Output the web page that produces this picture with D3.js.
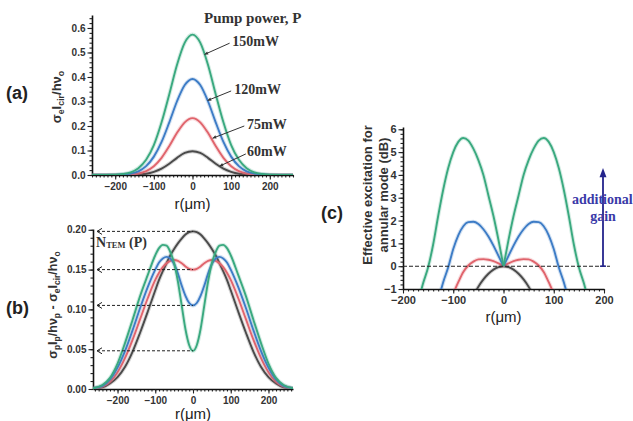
<!DOCTYPE html>
<html>
<head>
<meta charset="utf-8">
<script src="https://cdn.jsdelivr.net/npm/d3@7"></script>
<style>
  body { margin: 0; background: #fff; }
  svg { display: block; }
  text { font-family: "Liberation Sans", Arial, sans-serif; }
  .serif { font-family: "Liberation Serif", "Times New Roman", serif; }
</style>
</head>
<body>
<svg id="fig" width="633" height="421"></svg>
<script>
// pump powers, colours (60, 75, 120, 150 mW)
const powers = ['60mW', '75mW', '120mW', '150mW'];
const colors = ['#4a4a4a', '#e0646c', '#3d7cc6', '#3aa97f'];

// (a) sigma_e I_cir / h nu_o  -- right half, mirrored about r = 0
const rA = [0, 20, 40, 60, 80, 100, 120, 140, 160, 180, 200, 260];
const a60  = [0.097, 0.090, 0.070, 0.046, 0.026, 0.013, 0.005, 0.002, 0.0005, 0, 0, 0];
const a75  = [0.232, 0.215, 0.172, 0.118, 0.070, 0.036, 0.016, 0.006, 0.002, 0.0005, 0, 0];
const a120 = [0.392, 0.367, 0.301, 0.215, 0.135, 0.075, 0.036, 0.015, 0.006, 0.002, 0.0005, 0];
const a150 = [0.573, 0.540, 0.450, 0.330, 0.215, 0.122, 0.062, 0.028, 0.011, 0.004, 0.001, 0];

// (b) sigma_p I_p / h nu_p - sigma_e I_cir / h nu_o
const rB = [0, 10, 20, 30, 40, 50, 60, 70, 80, 90, 100, 120, 140, 160, 180, 200, 220, 240, 265];
const b60  = [0.198, 0.197, 0.194, 0.189, 0.183, 0.176, 0.168, 0.158, 0.148, 0.137, 0.124, 0.097, 0.071, 0.047, 0.028, 0.015, 0.007, 0.002, 0.0005];
const b75  = [0.150, 0.151, 0.154, 0.158, 0.161, 0.162, 0.161, 0.158, 0.153, 0.146, 0.137, 0.114, 0.088, 0.062, 0.039, 0.021, 0.009, 0.003, 0.0005];
const b120 = [0.105, 0.108, 0.117, 0.130, 0.145, 0.157, 0.164, 0.166, 0.164, 0.159, 0.150, 0.128, 0.102, 0.074, 0.048, 0.027, 0.012, 0.004, 0.001];
const b150 = [0.048, 0.055, 0.075, 0.105, 0.135, 0.158, 0.172, 0.180, 0.181, 0.177, 0.168, 0.143, 0.117, 0.087, 0.058, 0.032, 0.014, 0.005, 0.001];
const nTem = [0.198, 0.150, 0.105, 0.048];

// (c) effective excitation for annular mode (dB)
const rC60 = [0, 10, 20, 30, 40, 50, 60];
const c60  = [0, -0.04, -0.15, -0.33, -0.58, -0.9, -1.3];
const rC75 = [0, 10, 20, 30, 40, 50, 60, 70, 80, 90, 100];
const c75  = [0, 0.12, 0.22, 0.28, 0.31, 0.30, 0.20, 0.03, -0.25, -0.70, -1.2];
const rC120 = [0, 10, 20, 30, 40, 50, 60, 70, 80, 90, 100, 110, 120, 130];
const c120  = [0, 0.45, 0.90, 1.30, 1.62, 1.85, 1.95, 1.93, 1.75, 1.35, 0.75, -0.05, -0.70, -1.5];
const rC150 = [0, 10, 20, 30, 40, 50, 60, 70, 80, 90, 100, 110, 120, 130, 140, 150, 160, 170];
const c150  = [0, 1.15, 2.2, 3.1, 4.0, 4.65, 5.15, 5.5, 5.62, 5.45, 5.0, 4.3, 3.35, 2.2, 0.95, -0.05, -0.75, -1.6];

const svg = d3.select('#fig');
let clipId = 0;

function leftHalf(r, v) { return r.map((d, i) => [-d, v[i]]).reverse(); }
function rightHalf(r, v) { return r.map((d, i) => [d, v[i]]); }
function mirror(r, v) { return leftHalf(r, v).concat(rightHalf(r, v).slice(1)); }

function panel(o) {
  const x = d3.scaleLinear().domain(o.xDom).range(o.xRange);
  const y = d3.scaleLinear().domain(o.yDom).range(o.yRange);
  const g = svg.append('g');

  // minor ticks
  const xAxisY = o.yRange[0];
  g.append('g').attr('transform', `translate(0,${xAxisY})`)
    .call(d3.axisBottom(x).tickValues(o.xMinor).tickSize(2.5).tickFormat(''))
    .call(s => s.select('.domain').remove());
  g.append('g').attr('transform', `translate(${o.xRange[0]},0)`)
    .call(d3.axisLeft(y).tickValues(o.yMinor).tickSize(2.5).tickFormat(''))
    .call(s => s.select('.domain').remove());

  // major ticks
  const xa = g.append('g').attr('transform', `translate(0,${xAxisY})`)
    .call(d3.axisBottom(x).tickValues(o.xMajor).tickSize(4.5).tickSizeOuter(0).tickPadding(3));
  const ya = g.append('g').attr('transform', `translate(${o.xRange[0]},0)`)
    .call(d3.axisLeft(y).tickValues(o.yMajor).tickSize(4.5).tickSizeOuter(0).tickPadding(2).tickFormat(o.yFmt));

  g.selectAll('.domain').attr('stroke', '#111').attr('stroke-width', 1.6);
  g.selectAll('.tick line').attr('stroke', '#222').attr('stroke-width', 1.1);
  [xa, ya].forEach(a => a.selectAll('text')
    .attr('font-size', o.tickSize || 10).attr('font-weight', 'bold').attr('fill', '#333')
    .style('font-family', '"Liberation Sans", Arial, sans-serif'));

  const id = 'clip' + (clipId++);
  svg.append('clipPath').attr('id', id).append('rect')
    .attr('x', o.xRange[0]).attr('y', o.yRange[1] - 2)
    .attr('width', o.xRange[1] - o.xRange[0]).attr('height', o.yRange[0] - o.yRange[1] + 2);
  const plot = svg.append('g').attr('clip-path', `url(#${id})`);
  return { x, y, plot, g };
}

function curves(p, series, curveType) {
  const line = d3.line().x(d => p.x(d[0])).y(d => p.y(d[1])).curve(curveType);
  series.forEach((parts, i) => {
    parts.forEach(pts => {
      p.plot.append('path').attr('d', line(pts)).attr('fill', 'none')
        .attr('stroke', colors[i]).attr('stroke-width', 4).attr('stroke-opacity', 0.22);
      p.plot.append('path').attr('d', line(pts)).attr('fill', 'none')
        .attr('stroke', colors[i]).attr('stroke-width', 1.9);
    });
  });
}

function rotLabel(cx, cy, parts, size) {
  const t = svg.append('text').attr('transform', `translate(${cx},${cy}) rotate(-90)`)
    .attr('text-anchor', 'middle').attr('font-weight', 'bold').attr('font-size', size).attr('fill', '#333');
  let low = false;
  parts.forEach(([s, sub]) => {
    const sp = t.append('tspan').text(s);
    if (sub) { sp.attr('font-size', size * 0.68); if (!low) sp.attr('dy', 3); low = true; }
    else if (low) { sp.attr('dy', -3); low = false; }
  });
  return t;
}

function xLabel(p, yPos) {
  svg.append('text').attr('x', p.x(0)).attr('y', yPos).attr('text-anchor', 'middle')
    .attr('font-size', 15).attr('fill', '#222').text('r(\u03bcm)');
}

function tag(x, y, s) {
  svg.append('text').attr('x', x).attr('y', y).attr('font-size', 18)
    .attr('font-weight', 'bold').attr('fill', '#222').text(s);
}

// ---------------- (a) ----------------
const pa = panel({
  xDom: [-260, 260], xRange: [92, 293], yDom: [0, 0.653], yRange: [175, 15],
  xMajor: [-200, -100, 0, 100, 200], xMinor: d3.range(-260, 261, 10),
  yMajor: [0, 0.1, 0.2, 0.3, 0.4, 0.5, 0.6], yMinor: d3.range(0, 0.65, 0.02),
  yFmt: d3.format('.1f')
});
curves(pa, [a60, a75, a120, a150].map(v => [mirror(rA, v)]), d3.curveMonotoneX);
xLabel(pa, 209);
rotLabel(61, 97, [['\u03c3'], ['e', 1], ['I'], ['cir', 1], ['/h\u03bd'], ['o', 1]], 13);
tag(6, 99, '(a)');

svg.append('text').attr('class', 'serif').attr('x', 204).attr('y', 23)
  .attr('font-size', 15).attr('font-weight', 'bold').attr('fill', '#333').text('Pump power, P');

// label positions in data coordinates: text anchor and leader end on the curve
const aLabelAt = [[141, 0.078], [141, 0.188], [108, 0.330], [103, 0.526]];
const aLeadFrom = [[138, 0.086], [134, 0.200], [100, 0.343], [96, 0.538]];
const aLeadTo = [[70, 0.036], [52, 0.150], [39, 0.304], [31, 0.492]];
powers.forEach((s, i) => {
  svg.append('text').attr('class', 'serif').attr('x', pa.x(aLabelAt[i][0])).attr('y', pa.y(aLabelAt[i][1]))
    .attr('font-size', 14).attr('font-weight', 'bold').attr('fill', '#333').text(s);
  const x1 = pa.x(aLeadFrom[i][0]), y1 = pa.y(aLeadFrom[i][1]);
  const x2 = pa.x(aLeadTo[i][0]), y2 = pa.y(aLeadTo[i][1]);
  svg.append('line').attr('x1', x1).attr('y1', y1).attr('x2', x2).attr('y2', y2)
    .attr('stroke', '#333').attr('stroke-width', 1);
  const ang = Math.atan2(y2 - y1, x2 - x1);
  const hx = (a, l) => x2 - l * Math.cos(ang + a), hy = (a, l) => y2 - l * Math.sin(ang + a);
  svg.append('path').attr('d', `M${x2},${y2}L${hx(0.45, 4)},${hy(0.45, 4)}L${hx(-0.45, 4)},${hy(-0.45, 4)}Z`)
    .attr('fill', '#333');
});

// ---------------- (b) ----------------
const pb = panel({
  xDom: [-265, 265], xRange: [93, 293], yDom: [0, 0.201], yRange: [389, 229],
  xMajor: [-200, -100, 0, 100, 200], xMinor: d3.range(-260, 261, 10),
  yMajor: [0, 0.05, 0.1, 0.15, 0.2], yMinor: d3.range(0, 0.2001, 0.01),
  yFmt: d3.format('.2f')
});
curves(pb, [b60, b75, b120, b150].map(v => [mirror(rB, v)]), d3.curveMonotoneX);
xLabel(pb, 419);
rotLabel(57, 305, [['\u03c3'], ['p', 1], ['I'], ['p', 1], ['/h\u03bd'], ['p', 1], [' - \u03c3'], ['e', 1], ['I'], ['cir', 1], ['/h\u03bd'], ['o', 1]], 12.5);
tag(6, 314, '(b)');

nTem.forEach(v => {
  const yy = pb.y(v), x0 = pb.x(-265) + 4, x1 = pb.x(0);
  svg.append('line').attr('x1', x0).attr('x2', x1).attr('y1', yy).attr('y2', yy)
    .attr('stroke', '#222').attr('stroke-width', 1).attr('stroke-dasharray', '3,2');
  svg.append('path').attr('d', `M${x0 + 5},${yy - 3}L${x0},${yy}L${x0 + 5},${yy + 3}`)
    .attr('fill', 'none').attr('stroke', '#222').attr('stroke-width', 1);
});
const nt = svg.append('text').attr('class', 'serif').attr('x', 96).attr('y', 247)
  .attr('font-weight', 'bold').attr('fill', '#333').attr('font-size', 14);
nt.append('tspan').text('N');
nt.append('tspan').attr('font-size', 8.5).attr('dy', 1).text('TEM');
nt.append('tspan').attr('dy', -1).text(' (P)');

// ---------------- (c) ----------------
const pc = panel({
  xDom: [-200, 200], xRange: [403, 604], yDom: [-1, 6.1], yRange: [289, 127],
  xMajor: [-200, -100, 0, 100, 200], xMinor: d3.range(-200, 201, 10),
  yMajor: [-1, 0, 1, 2, 3, 4, 5, 6], yMinor: d3.range(-1, 6.01, 0.2),
  yFmt: d3.format('d'), tickSize: 11
});
svg.append('line').attr('x1', pc.x(-200)).attr('x2', pc.x(200) + 6).attr('y1', pc.y(0)).attr('y2', pc.y(0))
  .attr('stroke', '#222').attr('stroke-width', 1.1).attr('stroke-dasharray', '4,2');
curves(pc, [[rC60, c60], [rC75, c75], [rC120, c120], [rC150, c150]]
  .map(([r, v]) => [leftHalf(r, v), rightHalf(r, v)]), d3.curveMonotoneX);
xLabel(pc, 322);
const cl = svg.append('text').attr('transform', 'translate(380,195) rotate(-90)')
  .attr('text-anchor', 'middle').attr('font-weight', 'bold').attr('font-size', 13).attr('fill', '#333');
cl.append('tspan').attr('x', 0).attr('dy', -8).text('Effective excitation for');
cl.append('tspan').attr('x', 0).attr('dy', 16).text('annular mode (dB)');
tag(321, 219, '(c)');

// additional gain arrow
const ax = pc.x(200) - 1;
svg.append('line').attr('x1', ax).attr('x2', ax).attr('y1', pc.y(0)).attr('y2', pc.y(4.1))
  .attr('stroke', '#24248c').attr('stroke-width', 1.8);
svg.append('line').attr('x1', ax - 3).attr('x2', ax + 3).attr('y1', pc.y(0)).attr('y2', pc.y(0))
  .attr('stroke', '#24248c').attr('stroke-width', 1.5);
svg.append('path').attr('d', `M${ax},${pc.y(4.3)}L${ax - 3.5},${pc.y(3.9)}L${ax + 3.5},${pc.y(3.9)}Z`)
  .attr('fill', '#24248c');
svg.append('text').attr('class', 'serif').attr('x', 572).attr('y', 204)
  .attr('font-size', 14).attr('font-weight', 'bold').attr('fill', '#3a3aa8').text('additional');
svg.append('text').attr('class', 'serif').attr('x', 603).attr('y', 221).attr('text-anchor', 'middle')
  .attr('font-size', 14).attr('font-weight', 'bold').attr('fill', '#3a3aa8').text('gain');
</script>
</body>
</html>
